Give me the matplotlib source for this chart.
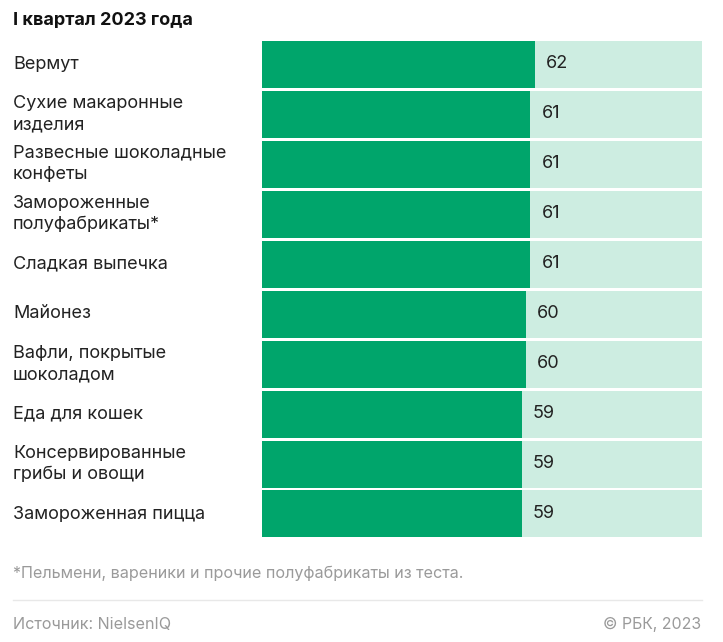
import matplotlib
matplotlib.use("Agg")
from matplotlib import pyplot as plt

plt.rcParams['font.family'] = ['Inter', 'DejaVu Sans']

# data
categories = [
    "Вермут",
    "Сухие макаронные\nизделия",
    "Развесные шоколадные\nконфеты",
    "Замороженные\nполуфабрикаты*",
    "Сладкая выпечка",
    "Майонез",
    "Вафли, покрытые\nшоколадом",
    "Еда для кошек",
    "Консервированные\nгрибы и овощи",
    "Замороженная пицца",
]
values = [62, 61, 61, 61, 61, 60, 60, 59, 59, 59]
full_scale = [100] * len(values)

title = "I квартал 2023 года"
footnote = "*Пельмени, вареники и прочие полуфабрикаты из теста."
source = "Источник: NielsenIQ"
copyright_text = "© РБК, 2023"

W, H = 723, 642
fig = plt.figure(figsize=(W / 100, H / 100), dpi=100)

# axes placed in pixel coords: x 262..702, y 39..539
ax = fig.add_axes([262 / W, (H - 539) / H, 440 / W, 500 / H])
pos = list(range(len(values)))
ax.barh(pos, full_scale, height=0.94, color="#cdede1", linewidth=0)
ax.barh(pos, values, height=0.94, color="#00a56b", linewidth=0)
ax.set_xlim(0, 100)
ax.set_ylim(len(values) - 0.5, -0.5)
ax.axis("off")

for i, (cat, v) in enumerate(zip(categories, values)):
    ax.text((13 - 262) / 440, i, cat, transform=ax.get_yaxis_transform(),
            ha="left", va="center", fontsize=13, color="#222222",
            linespacing=1.35, clip_on=False)
    ax.annotate(str(v), (v, i), xytext=(8, 0), textcoords="offset points",
                ha="left", va="center", fontsize=13, color="#222222")

fig.text(13 / W, 1 - 20 / H, title, ha="left", va="center",
         fontsize=13, fontweight="bold", color="#111111")
fig.text(13 / W, 1 - 573 / H, footnote, ha="left", va="center",
         fontsize=11.6, color="#9a9a9a")
fig.add_artist(plt.Line2D([13 / W, 702 / W], [1 - 600 / H, 1 - 600 / H],
                          color="#e8e8e8", linewidth=1))
fig.text(13 / W, 1 - 624 / H, source, ha="left", va="center",
         fontsize=11.6, color="#9a9a9a")
fig.text(701 / W, 1 - 624 / H, copyright_text, ha="right", va="center",
         fontsize=11.4, color="#9a9a9a")

fig.savefig("out.png", dpi=100, facecolor="white")
